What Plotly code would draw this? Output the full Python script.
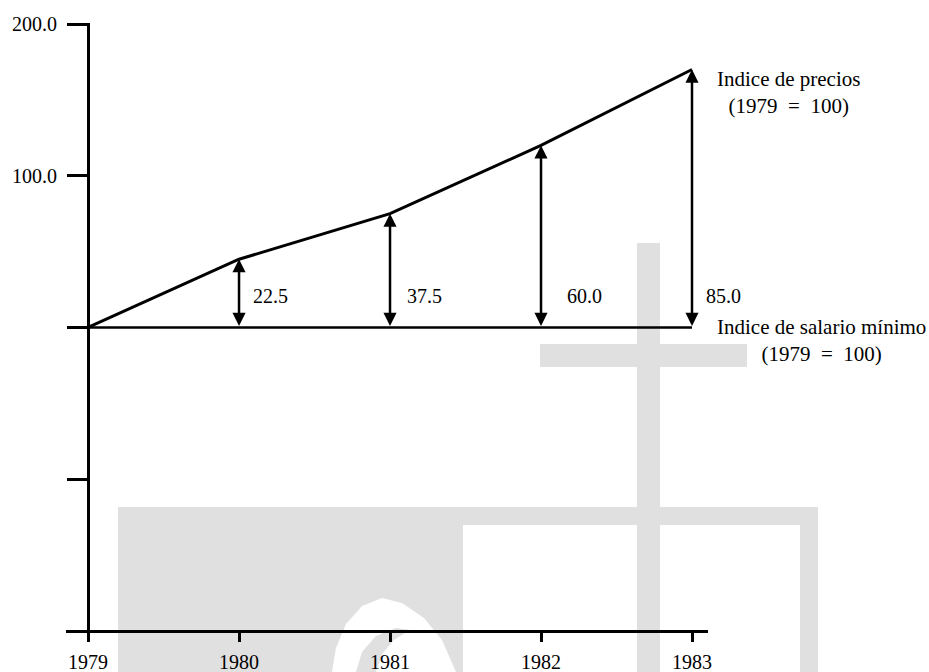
import plotly.graph_objects as go

# ---------------- data ----------------
years = [1979, 1980, 1981, 1982, 1983]
wage_index = [100.0, 100.0, 100.0, 100.0, 100.0]       # Indice de salario mínimo (1979 = 100)
price_index = [100.0, 122.5, 137.5, 160.0, 185.0]      # Indice de precios (1979 = 100)
gap_labels = ["22.5", "37.5", "60.0", "85.0"]          # differences written beside the arrows
y_tick_values = [200, 150, 100, 50]
y_tick_labels = ["200.0", "100.0", "", ""]
x_tick_labels = ["1979", "1980", "1981", "1982", "1983"]

# ---------------- styling / layout helpers ----------------
W, H = 929, 672
FONT = "Liberation Serif"
GRAY = "#e0e0e0"


def px_x(x):
    return x / W


def px_y(y):
    return 1 - y / H


def rect(x0, y0, x1, y1, color):
    return dict(type="rect", xref="paper", yref="paper",
                x0=px_x(x0), x1=px_x(x1), y0=px_y(y1), y1=px_y(y0),
                fillcolor=color, line=dict(width=0), layer="below")


def poly(points, color):
    path = "M " + " L ".join(f"{px_x(a):.5f},{px_y(b):.5f}" for a, b in points) + " Z"
    return dict(type="path", xref="paper", yref="paper", path=path,
                fillcolor=color, line=dict(width=0), layer="below")


# watermark of the scanned page (decoration only)
shapes = [
    rect(118, 507, 818, 672, GRAY),
    rect(463, 525, 637, 672, "white"),
    rect(660, 525, 800, 672, "white"),
    rect(637, 243, 660, 672, GRAY),
    rect(540, 344, 747, 367, GRAY),
    poly([(332, 672), (336, 648), (346, 624), (362, 606), (382, 598), (402, 603),
          (424, 618), (442, 640), (456, 672)], "white"),
    poly([(356, 672), (362, 652), (376, 636), (396, 628), (410, 630),
          (394, 640), (382, 654), (376, 672)], GRAY),
]

fig = go.Figure()
fig.add_trace(go.Scatter(x=years, y=wage_index, mode="lines",
                         line=dict(color="black", width=2.5),
                         hoverinfo="skip", showlegend=False))
fig.add_trace(go.Scatter(x=years, y=price_index, mode="lines",
                         line=dict(color="black", width=3),
                         hoverinfo="skip", showlegend=False))

annotations = []
label_xshift = [12, 15, 24, 12]
for i in range(1, len(years)):
    annotations.append(dict(
        x=years[i], y=price_index[i], xref="x", yref="y",
        ax=years[i], ay=wage_index[i], axref="x", ayref="y",
        text="", showarrow=True, arrowhead=2, startarrowhead=2,
        arrowside="end+start", arrowsize=1.05, startarrowsize=1.05,
        arrowwidth=2.5, arrowcolor="black", standoff=0, startstandoff=0))
    annotations.append(dict(
        x=years[i], y=wage_index[i], xref="x", yref="y",
        text=gap_labels[i - 1], showarrow=False,
        xanchor="left", yanchor="middle", xshift=label_xshift[i - 1], yshift=31,
        font=dict(family=FONT, size=20, color="black")))

annotations.append(dict(
    x=years[-1], y=price_index[-1], xref="x", yref="y",
    text="Indice de precios<br>(1979\u00a0 =\u00a0 100)", showarrow=False,
    xanchor="center", yanchor="middle", align="center", xshift=96, yshift=-23,
    font=dict(family=FONT, size=21, color="black")))
annotations.append(dict(
    x=years[-1], y=wage_index[-1], xref="x", yref="y",
    text="Indice de salario mínimo<br>(1979\u00a0 =\u00a0 100)", showarrow=False,
    xanchor="center", yanchor="middle", align="center", xshift=129, yshift=-13,
    font=dict(family=FONT, size=21, color="black")))

fig.update_layout(
    width=W, height=H, template="none",
    margin=dict(l=0, r=0, t=0, b=0, pad=0),
    paper_bgcolor="white", plot_bgcolor="rgba(0,0,0,0)",
    showlegend=False, shapes=shapes, annotations=annotations,
    font=dict(family=FONT, size=20, color="black"),
    xaxis=dict(
        domain=[66 / W, 708 / W], range=[1978.854, 1983.106],
        anchor="free", position=1 - 631 / H,
        tickvals=years, ticktext=x_tick_labels,
        ticks="outside", ticklen=9, tickwidth=3, tickcolor="black",
        ticklabelstandoff=3,
        showline=True, linewidth=3, linecolor="black",
        showgrid=False, zeroline=False, automargin=False,
        tickfont=dict(family=FONT, size=20, color="black"),
    ),
    yaxis=dict(
        domain=[1 - 634 / H, 1 - 23.1 / H], range=[-1, 200.3],
        anchor="free", position=88 / W,
        tickvals=y_tick_values, ticktext=y_tick_labels,
        ticks="outside", ticklen=20, tickwidth=3, tickcolor="black",
        ticklabelstandoff=6,
        showline=True, linewidth=3, linecolor="black",
        showgrid=False, zeroline=False, automargin=False,
        tickfont=dict(family=FONT, size=20, color="black"),
    ),
)

fig.write_html(
    "out.html",
    config={"displayModeBar": False},
    post_script="document.body.style.margin='0';document.body.style.overflow='hidden';",
)
